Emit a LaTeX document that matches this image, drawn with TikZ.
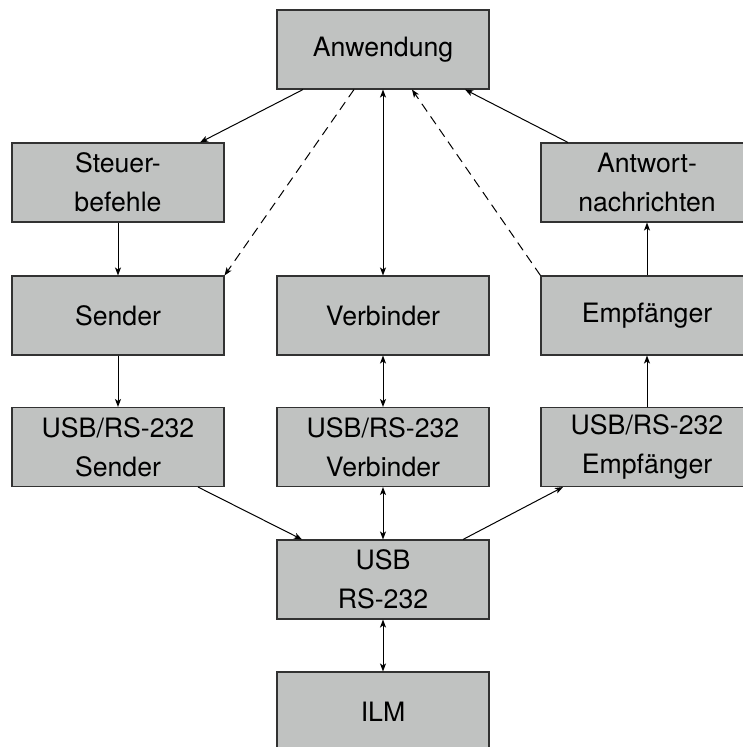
\documentclass[tikz,border=0pt]{standalone}
\usepackage{fontspec}
\setmainfont{TeX Gyre Heros}
\usetikzlibrary{arrows.meta,calc}
\definecolor{boxfill}{RGB}{192,194,193}
\definecolor{boxline}{RGB}{50,50,50}
\tikzset{
  blk/.style={draw=boxline, line width=0.8pt, fill=boxfill, minimum height=59.25pt,
              minimum width=159pt, align=center, inner sep=0pt,
              font=\fontsize{20}{29}\selectfont},
  conn/.style={line width=0.75pt, -{Stealth[length=6pt,width=4.5pt,inset=1.5pt]}},
  biconn/.style={line width=0.75pt, {Stealth[length=6pt,width=4.5pt,inset=1.5pt]}-{Stealth[length=6pt,width=4.5pt,inset=1.5pt]}},
  dconn/.style={conn, dash pattern=on 7pt off 4.5pt}
}
\begin{document}
\begin{tikzpicture}[x=0.75pt,y=-0.75pt]
\useasboundingbox (0,0) rectangle (743,747);
\node[blk] (anw)   at (383,49.5)  {Anwendung};
\node[blk] (steu)  at (118,182.5) {Steuer-\\befehle};
\node[blk] (antw)  at (647,182.5) {Antwort-\\nachrichten};
\node[blk] (send)  at (118,315.5) {Sender};
\node[blk] (verb)  at (383,315.5) {Verbinder};
\node[blk] (empf)  at (647,315.5) {Empfänger};
\node[blk] (usbs)  at (118,447)   {USB/RS-232\\Sender};
\node[blk] (usbv)  at (383,447)   {USB/RS-232\\Verbinder};
\node[blk] (usbe)  at (647,447)   {USB/RS-232\\Empfänger};
\node[blk] (usb)   at (383,579.5) {USB\\RS-232};
\node[blk] (ilm)   at (383,711.5) {ILM};

\draw[conn]  ($(anw.south)+(-80,0)$) -- ($(steu.north)+(82,0)$);
\draw[dconn] ($(anw.south)+(-29,0)$) -- (send.north east);
\draw[biconn] (anw) -- (verb);
\draw[dconn] (empf.north west) -- ($(anw.south)+(29,0)$);
\draw[conn]  ($(antw.north)+(-79,0)$) -- ($(anw.south)+(82,0)$);
\draw[conn]  (steu) -- (send);
\draw[conn]  (send) -- (usbs);
\draw[conn]  (empf) -- (antw);
\draw[conn]  (usbe) -- (empf);
\draw[biconn] (verb) -- (usbv);
\draw[biconn] (usbv) -- (usb);
\draw[biconn] (usb) -- (ilm);
\draw[conn]  ($(usbs.south)+(80,0)$) -- ($(usb.north)+(-81,0)$);
\draw[conn]  ($(usb.north)+(80,0)$) -- ($(usbe.south)+(-84,0)$);
\end{tikzpicture}
\end{document}
